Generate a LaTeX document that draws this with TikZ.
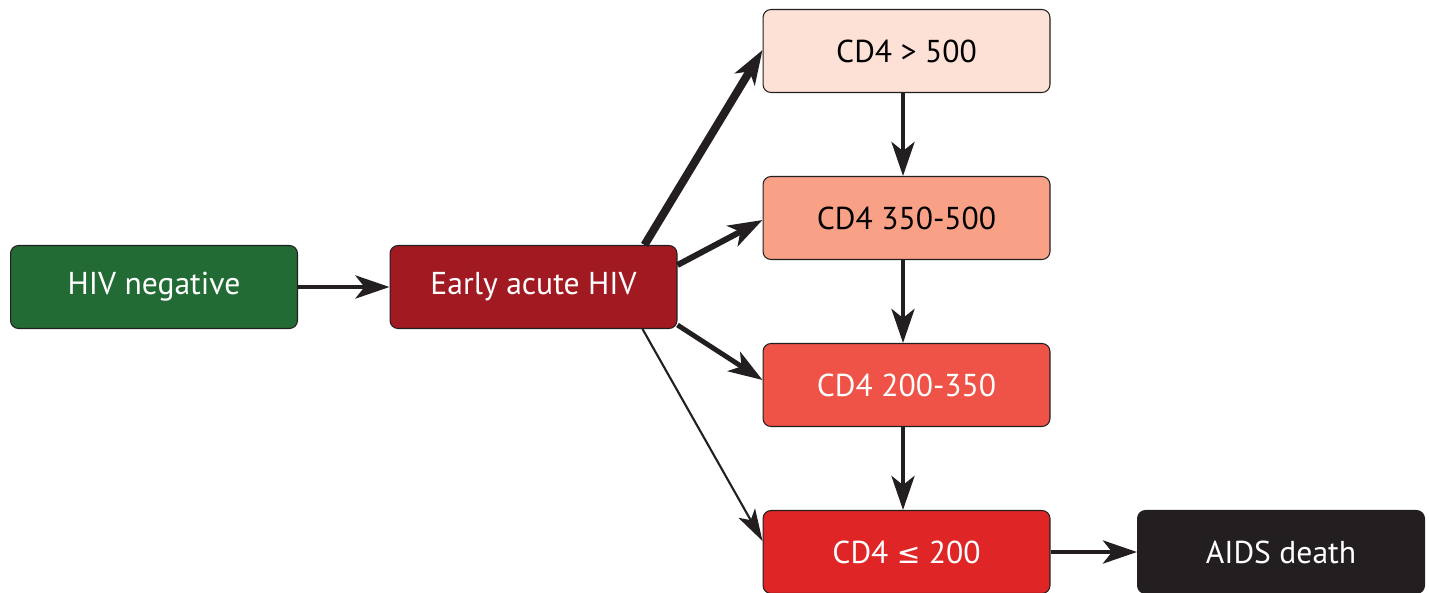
\documentclass[tikz,border=0pt]{standalone}
\usepackage{fontspec}
\setmainfont{PT Sans}
\newfontfamily\symfont{DejaVu Sans}
\usepackage{tikz}
\usetikzlibrary{arrows.meta,positioning}
\definecolor{NegGreen}{HTML}{226B35}
\definecolor{AcuteRed}{HTML}{A11A22}
\definecolor{CdHigh}{HTML}{FDE1D6}
\definecolor{CdMid}{HTML}{F8A186}
\definecolor{CdLow}{HTML}{EF5246}
\definecolor{CdAids}{HTML}{E02527}
\definecolor{DeathBlack}{HTML}{231F20}
\definecolor{ArrowCol}{HTML}{231F20}

\begin{document}
\begin{tikzpicture}[x=0.02cm, y=-0.02cm,
  every node/.style={font=\fontsize{18}{21}\selectfont},
  stagebox/.style={draw=DeathBlack, line width=0.6pt, rounded corners=0.16cm,
    minimum width=5.74cm, minimum height=1.66cm, inner sep=0pt},
  flow/.style={draw=ArrowCol, -{Stealth[length=0.68cm, width=0.46cm, inset=0.18cm]}}]
  \useasboundingbox (0,0) rectangle (1429,592);
  % stages
  \node[stagebox, fill=NegGreen, text=white] (neg) at (154,287) {HIV negative};
  \node[stagebox, fill=AcuteRed, text=white] (acute) at (533.5,287) {Early acute HIV};
  \node[stagebox, fill=CdHigh] (cdhigh) at (906.5,51) {CD4 > 500};
  \node[stagebox, fill=CdMid] (cdmid) at (906.5,218) {CD4 350-500};
  \node[stagebox, fill=CdLow, text=white] (cdlow) at (906.5,385) {CD4 200-350};
  \node[stagebox, fill=CdAids, text=white] (cdaids) at (906.5,552) {CD4 {\symfont\fontsize{16}{21}\selectfont ≤} 200};
  \node[stagebox, fill=DeathBlack, text=white] (death) at (1281,552) {AIDS death};
  % infection
  \draw[flow, line width=2.8pt] (neg) -- (acute);
  % seeding into CD4 strata
  \draw[flow, line width=4.6pt] ([xshift=-0.66cm]acute.north east) -- ([yshift=0.02cm]cdhigh.west);
  \draw[flow, line width=3.4pt] ([yshift=0.44cm]acute.east) -- ([yshift=-0.04cm]cdmid.west);
  \draw[flow, line width=2.8pt] ([yshift=0.08cm]acute.south east) -- ([yshift=0.1cm]cdlow.west);
  \draw[flow, line width=1.2pt, -{Stealth[length=0.64cm, width=0.38cm, inset=0.16cm]}]
    ([xshift=-0.7cm]acute.south east) -- ([yshift=0.22cm]cdaids.west);
  % progression
  \foreach \a/\b in {cdhigh/cdmid, cdmid/cdlow, cdlow/cdaids}{
    \draw[flow, line width=2.6pt] ([xshift=-0.07cm]\a.south) -- ([xshift=-0.07cm]\b.north);
  }
  \draw[flow, line width=2.8pt] (cdaids) -- (death);
\end{tikzpicture}
\end{document}
